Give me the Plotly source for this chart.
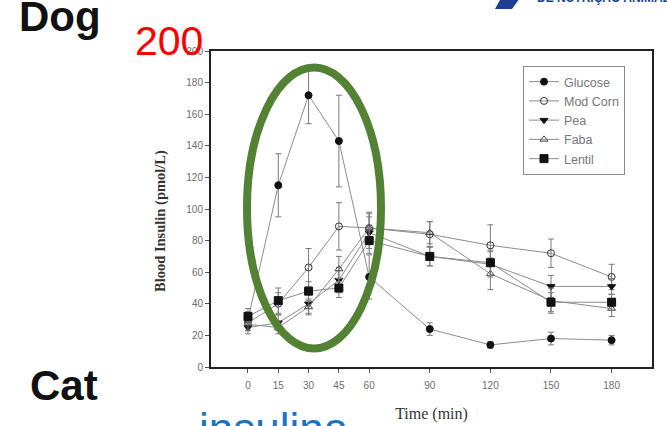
import plotly.graph_objects as go

# ---- data ----
time_min = [0, 15, 30, 45, 60, 90, 120, 150, 180]
x_ticks = [0, 15, 30, 45, 60, 90, 120, 150, 180]
y_ticks = [0, 20, 40, 60, 80, 100, 120, 140, 160, 180, 200]

glucose = [30, 115, 172, 143, 57, 24, 14, 18, 17]
glucose_err = [5, 20, 18, 29, 14, 4, 2, 4, 3]
mod_corn = [28, 40, 63, 89, 88, 84, 77, 72, 57]
mod_corn_err = [5, 7, 12, 15, 10, 8, 13, 9, 8]
pea = [25, 28, 40, 55, 85, 70, 65, 51, 51]
pea_err = [4, 5, 6, 8, 10, 6, 8, 7, 5]
faba = [27, 25, 38, 62, 88, 85, 59, 42, 37]
faba_err = [4, 4, 5, 8, 9, 7, 10, 8, 5]
lentil = [32, 42, 48, 50, 80, 70, 66, 41, 41]
lentil_err = [5, 8, 6, 6, 8, 6, 8, 6, 5]

series = [
    ("Glucose", glucose, glucose_err, "circle", "#111111", 7),
    ("Mod Corn", mod_corn, mod_corn_err, "circle-open", "#333333", 7),
    ("Pea", pea, pea_err, "triangle-down", "#111111", 7),
    ("Faba", faba, faba_err, "triangle-up-open", "#444444", 7),
    ("Lentil", lentil, lentil_err, "square", "#111111", 8),
]

LINE_GRAY = "#8c8c8c"
fig = go.Figure()
for name, vals, err, sym, mcol, msize in series:
    fig.add_trace(go.Scatter(
        x=time_min, y=vals, name=name, mode="lines+markers",
        line=dict(color=LINE_GRAY, width=1),
        marker=dict(symbol=sym, size=msize, color=mcol,
                    line=dict(color=mcol, width=1)),
        error_y=dict(type="data", array=err, visible=True,
                     color="#7a7a7a", thickness=1, width=3),
    ))

W, H = 667, 426
L, R, T, B = 211, 15, 51, 59
PW, PH = W - L - R, H - T - B


def px(x):
    return (x - L) / PW


def py(y):
    return (H - B - y) / PH


tick_font = dict(family="Liberation Sans, Arial", size=10, color="#6e6e6e")

fig.update_layout(
    width=W, height=H,
    margin=dict(l=L, r=R, t=T, b=B, pad=0, autoexpand=False),
    paper_bgcolor="white", plot_bgcolor="white",
    showlegend=True,
    legend=dict(x=px(523), y=py(66), xanchor="left", yanchor="top",
                bordercolor="#8a8a8a", borderwidth=1, bgcolor="white",
                font=dict(family="Liberation Sans, Arial", size=12.5, color="#777777"),
                tracegroupgap=0),
    xaxis=dict(range=[-18.3, 200], tickvals=x_ticks, ticktext=[str(v) for v in x_ticks],
               automargin=False,
               showgrid=False, zeroline=False, showline=True, mirror=True,
               linecolor="#222222", linewidth=2, ticks="outside", ticklen=4,
               tickcolor="#555555", tickfont=tick_font, ticklabelstandoff=4,
               title=dict(text="Time (min)", standoff=18,
                          font=dict(family="Liberation Serif, Times New Roman", size=16, color="#333333"))),
    yaxis=dict(range=[0, 200], tickvals=y_ticks, ticktext=[str(v) for v in y_ticks],
               automargin=False,
               showgrid=False, zeroline=False, showline=True, mirror=True,
               linecolor="#222222", linewidth=2, ticks="outside", ticklen=4,
               tickcolor="#555555", tickfont=tick_font),
)

# y-axis title
fig.add_annotation(text="<b>Blood Insulin (pmol/L)</b>", textangle=-90,
                   xref="paper", yref="paper", x=px(160), y=py(221),
                   showarrow=False, xanchor="center", yanchor="middle",
                   font=dict(family="Liberation Serif, Times New Roman", size=14.5, color="#333333"))

# slide texts
fig.add_annotation(text="<b>Dog</b>", xref="paper", yref="paper", x=px(17), y=py(16),
                   xanchor="left", yanchor="middle", showarrow=False,
                   font=dict(family="Liberation Sans, Arial", size=42, color="#111111"))
fig.add_annotation(text="<b>Cat</b>", xref="paper", yref="paper", x=px(28), y=py(385),
                   xanchor="left", yanchor="middle", showarrow=False,
                   font=dict(family="Liberation Sans, Arial", size=42, color="#111111"))
fig.add_annotation(text="200", xref="paper", yref="paper", x=px(133), y=py(41),
                   xanchor="left", yanchor="middle", showarrow=False,
                   font=dict(family="Liberation Sans, Arial", size=41, color="#ff0000"))
fig.add_annotation(text="insulina", xref="paper", yref="paper", x=px(197), y=py(428),
                   xanchor="left", yanchor="middle", showarrow=False,
                   font=dict(family="Liberation Sans, Arial", size=44, color="#1a73c6"))
fig.add_annotation(text="<b>DE NUTRIÇÃO ANIMAL</b>", xref="paper", yref="paper", x=px(535), y=py(-2.5),
                   xanchor="left", yanchor="middle", showarrow=False,
                   font=dict(family="Liberation Sans, Arial", size=12, color="#1c3f94"))

# logo fragment
fig.add_shape(type="path", xref="paper", yref="paper",
              path=f"M {px(495)} {py(9)} L {px(512)} {py(9)} L {px(520)} {py(-2)} L {px(501)} {py(-2)} Z",
              fillcolor="#1c3f94", line=dict(width=0), layer="above")

# green highlight ellipse
fig.add_shape(type="circle", xref="paper", yref="paper",
              x0=px(247), x1=px(381), y0=py(348.5), y1=py(67.5),
              line=dict(color="#548235", width=8), layer="above")

fig.write_html("out.html")
